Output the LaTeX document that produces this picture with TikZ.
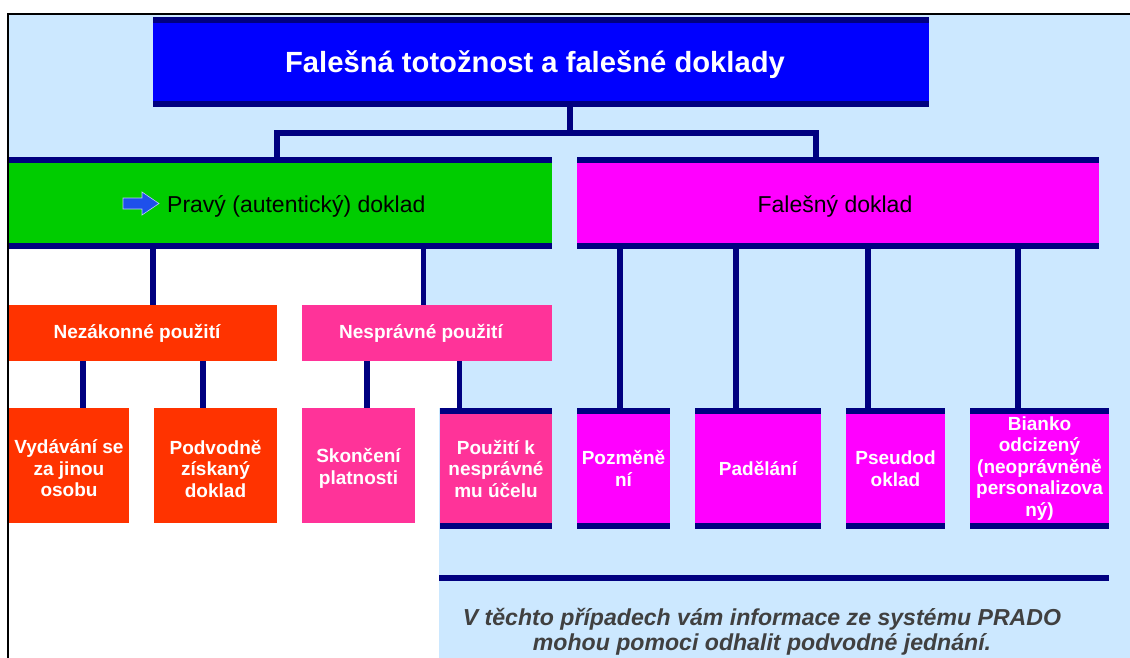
\documentclass[tikz,border=0pt]{standalone}
\usepackage{fontspec}
\setmainfont{Liberation Sans}
\usetikzlibrary{calc}
\definecolor{navy}{RGB}{0,0,128}
\definecolor{tblue}{RGB}{0,0,255}
\definecolor{ggreen}{RGB}{0,204,0}
\definecolor{mmag}{RGB}{255,0,255}
\definecolor{rred}{RGB}{255,51,0}
\definecolor{ppink}{RGB}{255,51,153}
\definecolor{lightbl}{RGB}{204,232,255}
\definecolor{arrowblue}{RGB}{30,80,235}
\definecolor{txtgray}{RGB}{64,64,64}
\begin{document}
\begin{tikzpicture}[x=1pt,y=-1pt,
  box/.style={rectangle, inner sep=0pt, outer sep=0pt, anchor=north west, align=center},
  barred/.style={path picture={
      \fill[navy] (path picture bounding box.north west) rectangle ([yshift=-6pt]path picture bounding box.north east);
      \fill[navy] (path picture bounding box.south west) rectangle ([yshift=6pt]path picture bounding box.south east);}},
  shortfill/.style={path picture={
      \fill[#1] (path picture bounding box.north west) rectangle ([yshift=6pt]path picture bounding box.south east);}},
  midtext/.style={font=\fontsize{23}{27}\selectfont, text=black},
  subtext/.style={font=\bfseries\fontsize{19}{21.5}\selectfont, text=white},
  conn/.style={draw=navy, line width=5.5pt}
]
\useasboundingbox (0,0) rectangle (1130,658);
% background
\fill[white] (0,0) rectangle (1130,658);
\fill[lightbl] (9,15) -- (1130,15) -- (1130,658) -- (439,658) -- (439,408) -- (462,408)
  -- (462,330) -- (426,330) -- (426,249) -- (9,249) -- cycle;
\draw[black, line width=2pt] (8,658) -- (8,14) -- (1130,14);

% boxes
\node[box, barred, fill=tblue, minimum width=776pt, minimum height=90pt,
  font=\bfseries\fontsize{29.2}{34}\selectfont, text=white] (title) at (153,17)
  {\raisebox{-3pt}[\height][\depth]{Falešná totožnost a falešné doklady}\hspace*{12pt}};
\node[box, barred, fill=ggreen, minimum width=543pt, minimum height=92pt] (green) at (9,157) {};
\node[midtext, anchor=west, inner sep=0pt] (pravy) at (167,206) {Pravý (autentický) doklad};
\node[box, barred, fill=mmag, minimum width=522pt, minimum height=92pt, midtext] (mag) at (577,157)
  {\raisebox{-3pt}[\height][\depth]{Falešný doklad}\hspace*{6pt}};

\node[box, fill=rred, minimum width=268pt, minimum height=56pt, subtext] (nez) at (9,305) {Nezákonné použití\hspace*{12pt}};
\node[box, fill=ppink, minimum width=250pt, minimum height=56pt, subtext] (nesp) at (302,305) {Nesprávné použití\hspace*{12pt}};

\node[box, shortfill=rred, minimum width=120pt, minimum height=121pt, subtext] (vyd) at (9,408) {Vydávání se\\za jinou\\osobu};
\node[box, shortfill=rred, minimum width=123pt, minimum height=121pt, subtext] (podv) at (154,408) {Podvodně\\získaný\\doklad};
\node[box, shortfill=ppink, minimum width=113pt, minimum height=121pt, subtext] (skon) at (302,408) {Skončení\\platnosti};
\node[box, barred, fill=ppink, minimum width=112pt, minimum height=121pt, subtext] (pouz) at (440,408) {Použití k\\nesprávné\\mu účelu};
\node[box, barred, fill=mmag, minimum width=93pt, minimum height=121pt, subtext] (pozm) at (577,408) {Pozměně\\ní};
\node[box, barred, fill=mmag, minimum width=126pt, minimum height=121pt, subtext] (pade) at (695,408) {Padělání};
\node[box, barred, fill=mmag, minimum width=99pt, minimum height=121pt, subtext] (pseu) at (846,408) {Pseudod\\oklad};
\node[box, barred, fill=mmag, minimum width=139pt, minimum height=121pt, subtext] (bian) at (970,408) {Bianko\\odcizený\\(neoprávněně\\personalizova\\ný)};

% arrow icon
\fill[arrowblue, draw=white!70!arrowblue, line width=0.6pt] (123,198) -- (142,198) -- (142,192) -- (159,203.5) -- (142,215) -- (142,209) -- (123,209) -- cycle;

% connector x positions
\coordinate (j) at (570,133);
\coordinate (jl) at (277,133);
\coordinate (jr) at (816,133);
\coordinate (xa) at (153,0);
\coordinate (xb) at (423.5,0);
\coordinate (xc) at (83,0);
\coordinate (xd) at (203,0);
\coordinate (xe) at (367,0);
\coordinate (xf) at (459.5,0);
\coordinate (xg) at (620,0);
\coordinate (xh) at (736,0);
\coordinate (xi) at (868,0);
\coordinate (xj) at (1018,0);

\draw[conn] (title.south -| j) -- (j);
\draw[conn, line join=miter] (green.north -| jl) -- (jl) -- (jr) -- (mag.north -| jr);
\draw[conn] (green.south -| xa) -- (nez.north -| xa);
\draw[conn] (green.south -| xb) -- (nesp.north -| xb);
\draw[conn] (nez.south -| xc) -- (vyd.north -| xc);
\draw[conn] (nez.south -| xd) -- (podv.north -| xd);
\draw[conn] (nesp.south -| xe) -- (skon.north -| xe);
\draw[conn] (nesp.south -| xf) -- (pouz.north -| xf);
\draw[conn] (mag.south -| xg) -- (pozm.north -| xg);
\draw[conn] (mag.south -| xh) -- (pade.north -| xh);
\draw[conn] (mag.south -| xi) -- (pseu.north -| xi);
\draw[conn] (mag.south -| xj) -- (bian.north -| xj);

% bottom rule
\coordinate (hl1) at (439,578);
\coordinate (hl2) at (1109,578);
\draw[navy, line width=6pt] (hl1) -- (hl2);

% note
\node[font=\bfseries\itshape\fontsize{23.1}{25.5}\selectfont, text=txtgray, align=center] (note) at (762,632)
  {V těchto případech vám informace ze systému PRADO\\mohou pomoci odhalit podvodné jednání.};
\end{tikzpicture}
\end{document}
